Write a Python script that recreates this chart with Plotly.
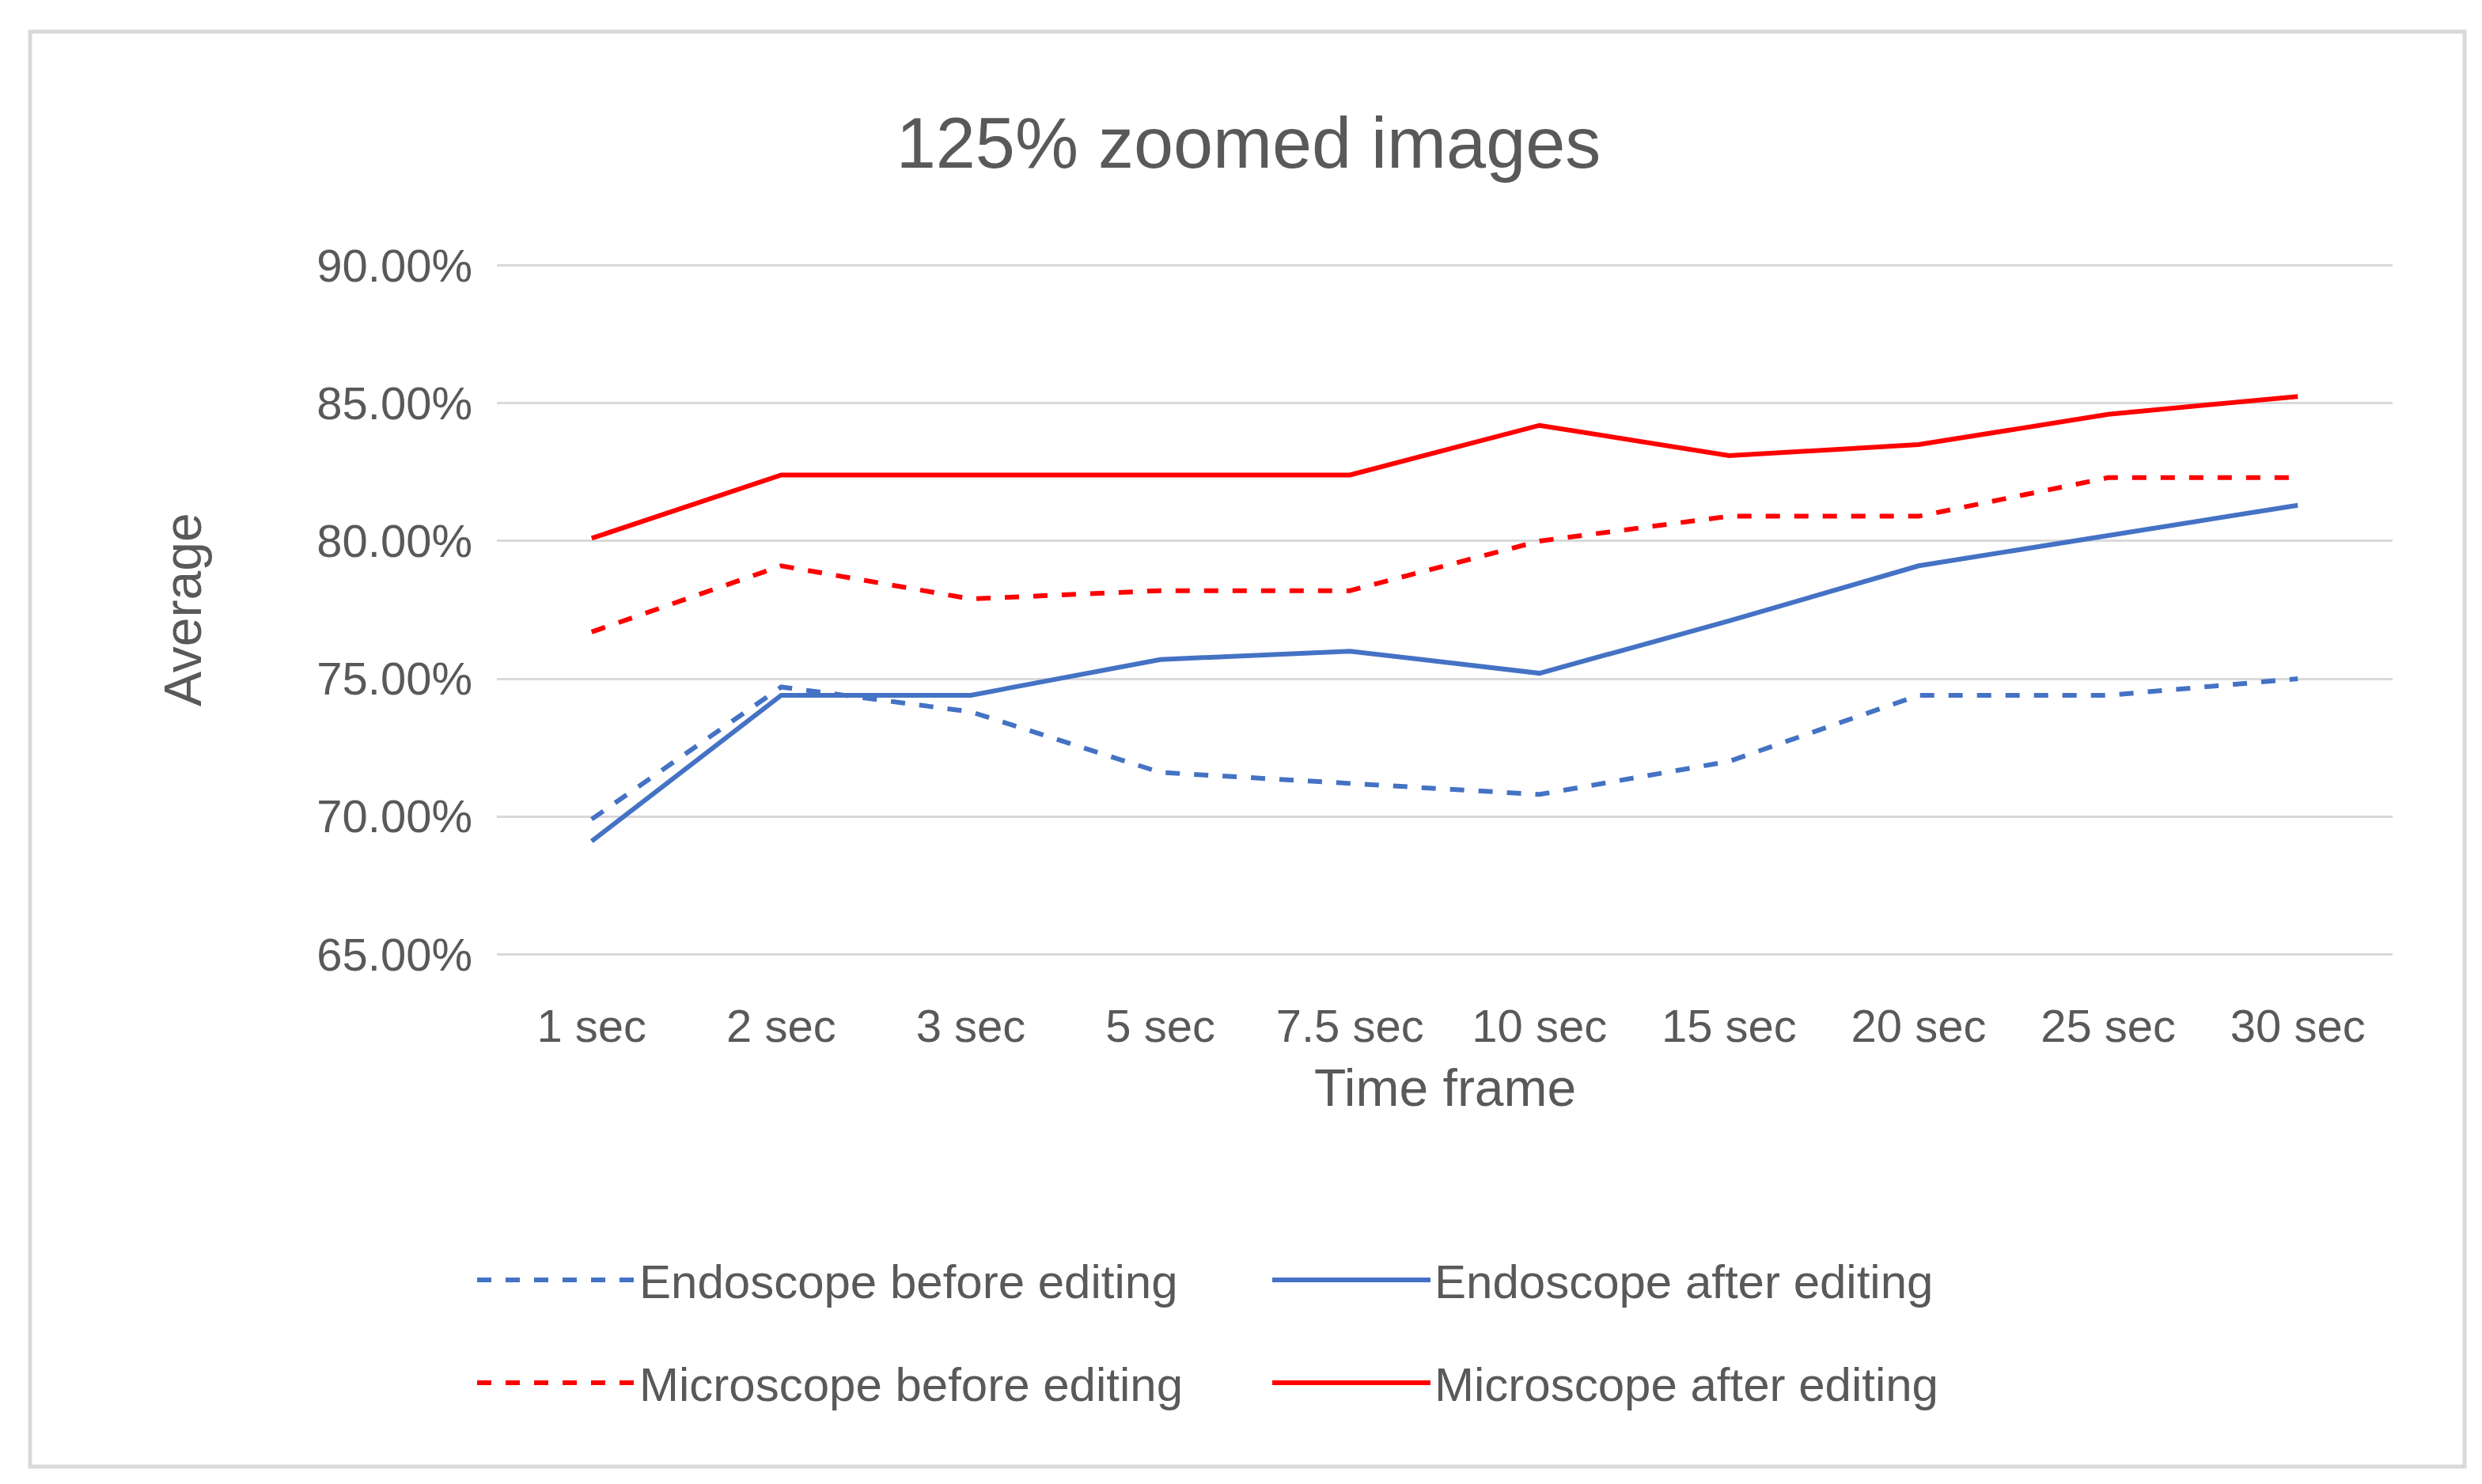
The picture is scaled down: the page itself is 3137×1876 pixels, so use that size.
import plotly.graph_objects as go

categories = ["1 sec", "2 sec", "3 sec", "5 sec", "7.5 sec", "10 sec", "15 sec", "20 sec", "25 sec", "30 sec"]
endo_before = [69.9, 74.7, 73.8, 71.6, 71.2, 70.8, 72.0, 74.4, 74.4, 75.0]
endo_after = [69.1, 74.4, 74.4, 75.7, 76.0, 75.2, 77.1, 79.1, 80.2, 81.3]
micro_before = [76.7, 79.1, 77.9, 78.2, 78.2, 80.0, 80.9, 80.9, 82.3, 82.3]
micro_after = [80.1, 82.4, 82.4, 82.4, 82.4, 84.2, 83.1, 83.5, 84.6, 85.25]

W, H = 3137, 1876
L, R, T, B = 620, 3016, 326, 1200
pw, ph = R - L, B - T
def px(x): return (x - L) / pw
def py(y): return (B - y) / ph

BLUE, RED, GRAY = "#4472C4", "#FF0000", "#595959"
FONT = "Liberation Sans"

fig = go.Figure()
series = [
    ("Endoscope before editing", endo_before, BLUE, "dash", "legend"),
    ("Endoscope after editing", endo_after, BLUE, "solid", "legend"),
    ("Microscope before editing", micro_before, RED, "dash", "legend2"),
    ("Microscope after editing", micro_after, RED, "solid", "legend2"),
]
for name, vals, col, dash, lg in series:
    fig.add_trace(go.Scatter(x=categories, y=[v / 100 for v in vals], name=name, mode="lines",
                             line=dict(color=col, width=6, dash=dash), legend=lg))

leg_common = dict(orientation="h", xanchor="left", yanchor="middle", entrywidth=790,
                  entrywidthmode="pixels", itemwidth=200, bgcolor="rgba(0,0,0,0)",
                  font=dict(family=FONT, size=60, color=GRAY))
fig.update_layout(
    width=W, height=H, margin=dict(l=L, r=W - R, t=T, b=H - B),
    paper_bgcolor="white", plot_bgcolor="white",
    title=dict(text="125% zoomed images", x=px(1570), xref="paper", y=1 - 172 / H, yref="container",
               xanchor="center", yanchor="middle", font=dict(family=FONT, size=90, color=GRAY)),
    xaxis=dict(showgrid=False, showline=False, ticks="", range=[-0.5, 9.5], ticklabelstandoff=50,
               tickfont=dict(family=FONT, size=58, color=GRAY)),
    yaxis=dict(range=[0.6495, 0.9005], dtick=0.05, tick0=0.65, tickformat=".2%", showgrid=True,
               gridcolor="#D9D9D9", gridwidth=3, zeroline=False, ticks="", ticklabelstandoff=30,
               tickfont=dict(family=FONT, size=58, color=GRAY)),
    legend=dict(x=px(590), y=py(1610), **leg_common),
    legend2=dict(x=px(590), y=py(1740), **leg_common),
    showlegend=True,
)
fig.add_annotation(text="Time frame", x=0.5, y=py(1406), xref="paper", yref="paper", showarrow=False,
                   font=dict(family=FONT, size=66, color=GRAY))
fig.add_annotation(text="Average", x=px(184), y=py(763), xref="paper", yref="paper", showarrow=False,
                   textangle=-90, font=dict(family=FONT, size=66, color=GRAY))
fig.add_shape(type="rect", xref="paper", yref="paper", x0=px(30), x1=px(3107), y0=py(1846), y1=py(32),
              line=dict(color="#D9D9D9", width=5))
fig.write_html("out.html")
